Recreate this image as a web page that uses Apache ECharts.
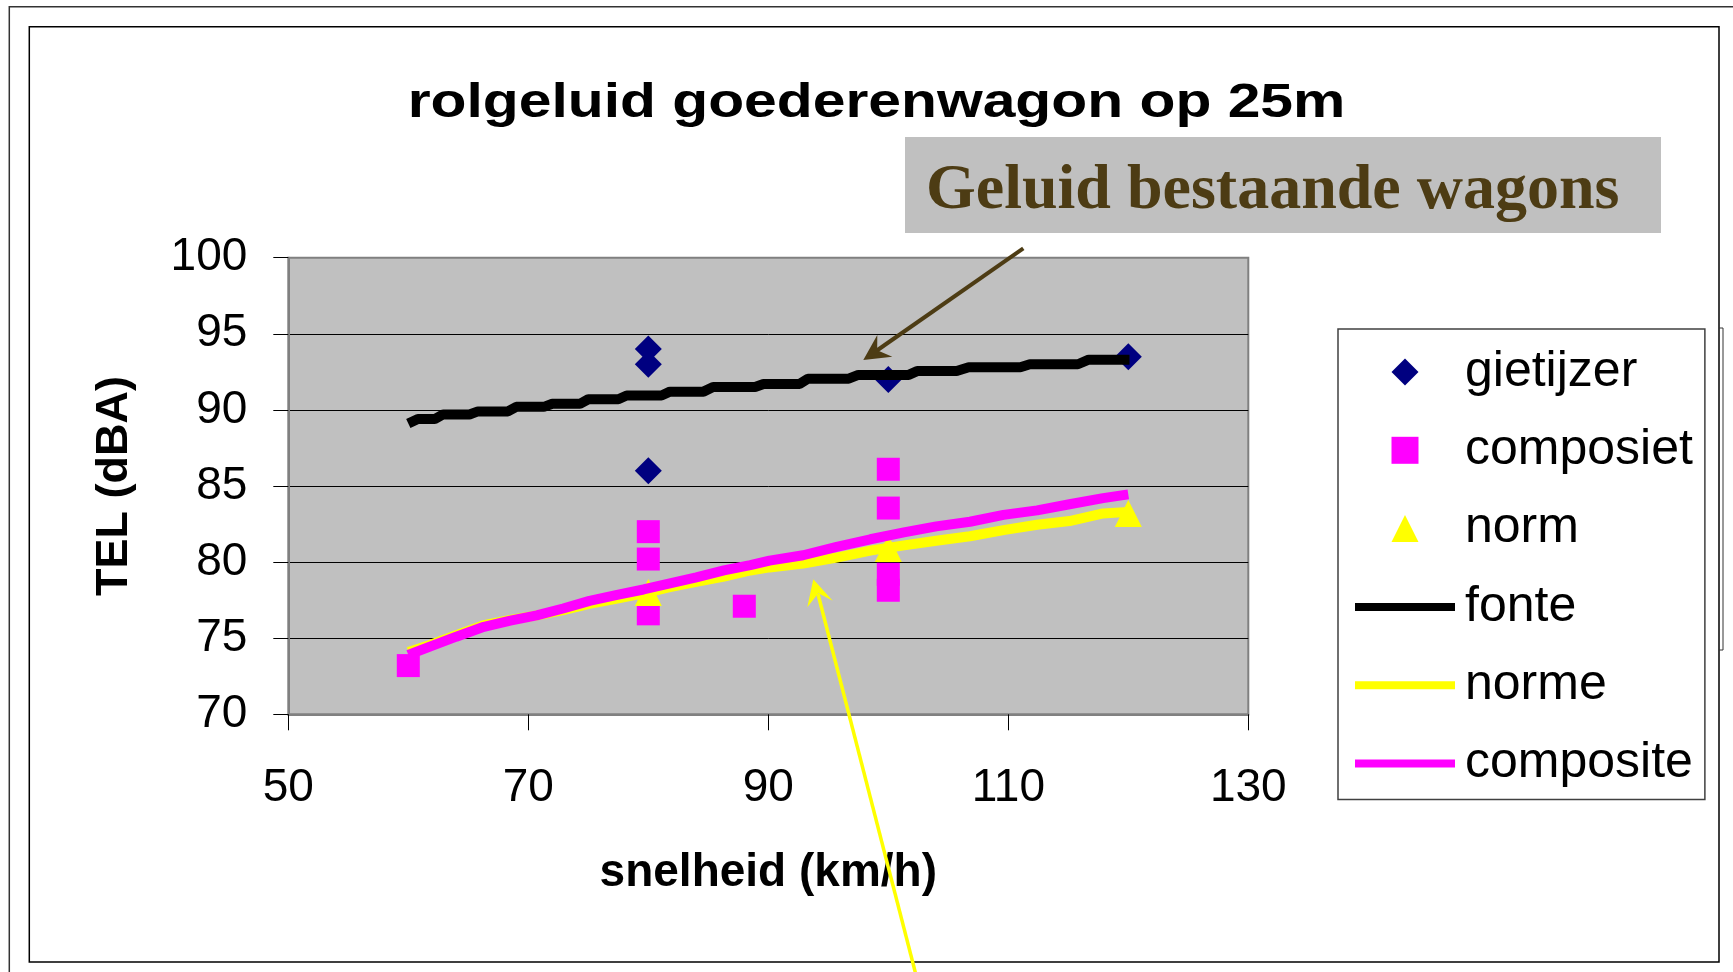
<!DOCTYPE html>
<html><head><meta charset="utf-8">
<script src="https://cdn.jsdelivr.net/npm/echarts@6/dist/echarts.min.js"></script>
<style>html,body{margin:0;padding:0;background:#fff}#c{width:1733px;height:972px}</style>
</head><body><div id="c"></div><script>
// ---- data ----
const titleText = 'rolgeluid goederenwagon op 25m';
const noteText = 'Geluid bestaande wagons';
const xName = 'snelheid (km/h)';
const yName = 'TEL (dBA)';

const gietijzerSpeed = [80, 80, 80, 100, 120];
const gietijzerLevel = [94.0, 93.0, 86.0, 92.0, 93.5];

const composietSpeed = [60, 80, 80, 80, 88, 100, 100, 100, 100];
const composietLevel = [73.2, 82.0, 80.2, 76.6, 77.1, 86.1, 83.55, 79.2, 78.15];

const normSpeed = [80, 100, 120];
const normLevel = [78.0, 80.9, 83.2];

const fonteSpeed = [60, 60.8, 62.2, 62.9, 65.1, 65.8, 68.3, 69.0, 71.3, 72.0, 74.3, 75.0, 77.5, 78.2, 81.1, 81.8, 84.6, 85.4, 88.9, 89.6, 92.6, 93.3, 96.7, 97.5, 101.7, 102.4, 105.7, 106.7, 111.0, 111.8, 115.8, 116.7, 120.1];
const fonteLevel = [89.1, 89.4, 89.4, 89.7, 89.7, 89.9, 89.9, 90.2, 90.2, 90.4, 90.4, 90.7, 90.7, 90.95, 90.95, 91.2, 91.2, 91.5, 91.5, 91.7, 91.7, 92.05, 92.05, 92.3, 92.3, 92.55, 92.55, 92.8, 92.8, 93.0, 93.0, 93.3, 93.3];

const normeSpeed = [60, 61.8, 64.0, 66.3, 68.5, 70.7, 72.9, 75.1, 77.4, 79.6, 81.8, 84.0, 86.3, 88.5, 90.1, 92.9, 95.7, 98.5, 101.3, 104.0, 106.8, 109.6, 112.4, 115.1, 117.9, 120];
const normeLevel = [74.1, 74.55, 75.2, 75.85, 76.2, 76.5, 76.85, 77.25, 77.6, 77.95, 78.35, 78.7, 79.05, 79.45, 79.65, 79.9, 80.3, 80.75, 81.1, 81.4, 81.7, 82.1, 82.45, 82.7, 83.2, 83.3];

const compositeSpeed = [60, 61.8, 64.0, 66.3, 68.5, 70.7, 72.9, 75.1, 77.4, 79.6, 81.8, 84.0, 86.3, 88.5, 90.1, 92.9, 95.7, 98.5, 101.3, 104.0, 106.8, 109.6, 112.4, 115.1, 117.9, 120];
const compositeLevel = [73.9, 74.45, 75.1, 75.75, 76.15, 76.5, 76.95, 77.45, 77.85, 78.2, 78.6, 79.0, 79.45, 79.8, 80.1, 80.45, 81.0, 81.5, 81.95, 82.35, 82.65, 83.1, 83.4, 83.8, 84.2, 84.45];

const seriesNames = ['gietijzer', 'composiet', 'norm', 'fonte', 'norme', 'composite'];

// ---- build ----
const pairs = (xs, ys) => xs.map((x, i) => [x, ys[i]]);
const SANS = "'Liberation Sans', Arial, sans-serif";
const SERIF = "'Liberation Serif', 'Times New Roman', serif";

const chart = echarts.init(document.getElementById('c'), null, {renderer: 'canvas'});

const lineSeries = (name, xs, ys, color, w) => ({
  name: name, type: 'line', data: pairs(xs, ys), symbol: 'none', showSymbol: false,
  lineStyle: {color: color, width: w},
  itemStyle: {color: color},
  emphasis: {disabled: true},
  animation: false, z: 3
});

const BAR_ICON = 'path://M0,0H100V8H0Z';

chart.setOption({
  animation: false,
  backgroundColor: '#fff',
  grid: {
    left: 288.3, top: 257.7, right: 484.7, bottom: 257.7,
    show: true, backgroundColor: '#c0c0c0', borderColor: '#808080', borderWidth: 2,
    containLabel: false, outerBoundsMode: 'none'
  },
  xAxis: {
    type: 'value', min: 50, max: 130, interval: 20,
    name: xName, nameLocation: 'middle', nameGap: 136,
    nameTextStyle: {fontFamily: SANS, fontSize: 46, fontWeight: 'bold', color: '#000'},
    axisLine: {show: true, onZero: false, lineStyle: {color: '#808080', width: 2}},
    axisTick: {show: true, length: 16, lineStyle: {color: '#000', width: 1}},
    axisLabel: {fontFamily: SANS, fontSize: 46, color: '#000', margin: 51},
    splitLine: {show: false}
  },
  yAxis: {
    type: 'value', min: 70, max: 100, interval: 5,
    name: yName, nameLocation: 'middle', nameGap: 151, nameRotate: 90,
    nameTextStyle: {fontFamily: SANS, fontSize: 45, fontWeight: 'bold', color: '#000'},
    axisLine: {show: true, onZero: false, lineStyle: {color: '#808080', width: 2}},
    axisTick: {show: true, length: 15, lineStyle: {color: '#000', width: 1}},
    axisLabel: {fontFamily: SANS, fontSize: 46, color: '#000', margin: 41},
    splitLine: {show: true, showMinLine: false, showMaxLine: false, lineStyle: {color: '#000', width: 1}}
  },
  legend: {
    orient: 'vertical', left: 1338, top: 329,
    padding: [18, 12, 11, 17], itemGap: 28.3, itemWidth: 100, itemHeight: 27,
    backgroundColor: '#fff', borderColor: '#404040', borderWidth: 1.5,
    textStyle: {fontFamily: SANS, fontSize: 50, color: '#000', lineHeight: 50, padding: [0, 0, 0, 5]},
    data: [
      {name: seriesNames[0], icon: 'path://M0,-1L1,0L0,1L-1,0Z'},
      {name: seriesNames[1], icon: 'path://M0,0L1,0L1,1L0,1Z'},
      {name: seriesNames[2], icon: 'path://M0,-1L1,1L-1,1Z'},
      {name: seriesNames[3], icon: BAR_ICON},
      {name: seriesNames[4], icon: BAR_ICON},
      {name: seriesNames[5], icon: BAR_ICON}
    ]
  },
  series: [
    {name: seriesNames[0], type: 'scatter', data: pairs(gietijzerSpeed, gietijzerLevel),
     symbol: 'diamond', symbolSize: 27, itemStyle: {color: '#000080', opacity: 1}, z: 2},
    {name: seriesNames[1], type: 'scatter', data: pairs(composietSpeed, composietLevel),
     symbol: 'rect', symbolSize: 23, itemStyle: {color: '#ff00ff', opacity: 1}, z: 2},
    {name: seriesNames[2], type: 'scatter', data: pairs(normSpeed, normLevel),
     symbol: 'triangle', symbolSize: 27, itemStyle: {color: '#ffff00', opacity: 1}, z: 2},
    lineSeries(seriesNames[3], fonteSpeed, fonteLevel, '#000000', 10),
    lineSeries(seriesNames[4], normeSpeed, normeLevel, '#ffff00', 10),
    lineSeries(seriesNames[5], compositeSpeed, compositeLevel, '#ff00ff', 10)
  ],
  graphic: [
    {type: 'polyline', z: 50, silent: true, shape: {points: [[9.3, 972], [9.3, 6.7], [1733, 6.7]]},
     style: {stroke: '#333', lineWidth: 1.5, fill: null}},
    {type: 'rect', z: 50, silent: true, shape: {x: 29.3, y: 26.7, width: 1689.7, height: 935.3},
     style: {stroke: '#000', lineWidth: 1.5, fill: null}},
    {type: 'polyline', z: 50, silent: true, shape: {points: [[1719, 328], [1723, 328], [1723, 650], [1719, 650]]},
     style: {stroke: '#333', lineWidth: 1, fill: null}},
    {type: 'text', z: 60, x: 876.5, y: 103, scaleX: 1.2, scaleY: 1,
     style: {text: titleText, x: 0, y: 0, font: "bold 49px " + SANS, fill: '#000',
             textAlign: 'center', textVerticalAlign: 'middle'}},
    {type: 'rect', z: 60, silent: true, shape: {x: 905, y: 137, width: 756, height: 96},
     style: {fill: '#c0c0c0'}},
    {type: 'text', z: 61, x: 926, y: 191.5,
     style: {text: noteText, x: 0, y: 0, font: "bold 64px " + SERIF, fill: '#4d3c14',
             textAlign: 'left', textVerticalAlign: 'middle'}},
    {type: 'line', z: 70, silent: true, shape: {x1: 1023.3, y1: 248.3, x2: 874, y2: 352.5},
     style: {stroke: '#4d3c14', lineWidth: 4}},
    {type: 'polygon', z: 70, silent: true,
     shape: {points: [[863.3, 360], [877.3, 335], [877.2, 350.3], [892.3, 356.7]]},
     style: {fill: '#4d3c14'}},
    {type: 'line', z: 70, silent: true, shape: {x1: 916, y1: 975, x2: 818, y2: 594},
     style: {stroke: '#ffff00', lineWidth: 3.5}},
    {type: 'polygon', z: 70, silent: true,
     shape: {points: [[813.3, 579.3], [807.3, 607.3], [818.3, 593.3], [832.7, 600.7]]},
     style: {fill: '#ffff00'}}
  ]
});
</script></body></html>
